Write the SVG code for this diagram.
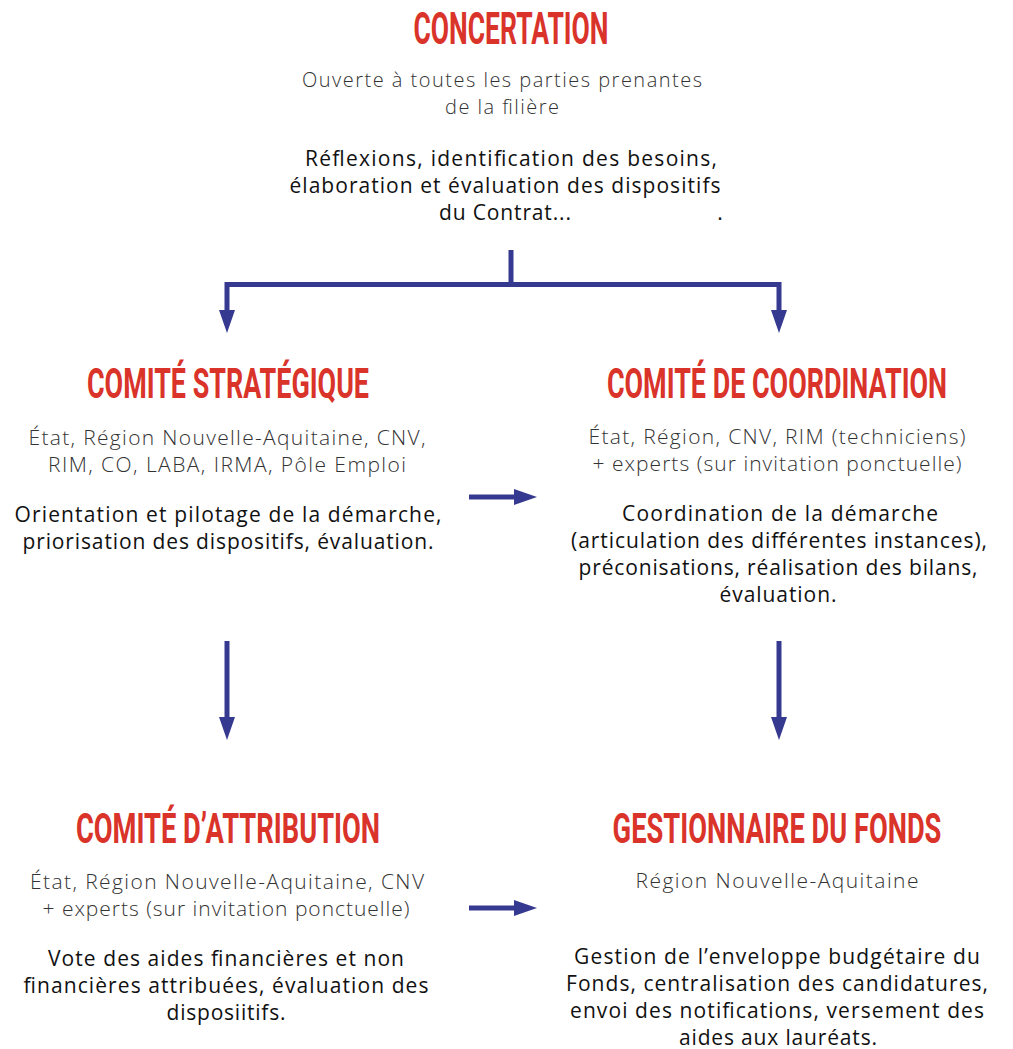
<svg xmlns="http://www.w3.org/2000/svg" width="1013" height="1049" viewBox="0 0 1013 1049">
<defs>
<style>
.h{font-family:Roboto,"Liberation Sans",sans-serif;font-weight:700;fill:#d9332a;text-anchor:middle}
.m{font-family:"Open Sans","Noto Sans",sans-serif;font-weight:300;font-size:21px;fill:#333;text-anchor:middle}
.d{font-family:"Open Sans","Noto Sans",sans-serif;font-weight:500;font-size:21px;fill:#111;text-anchor:middle}
.c{fill:none;stroke:#363990;stroke-width:5;stroke-linejoin:miter;marker-end:url(#ah)}
</style>
<marker id="ah" markerUnits="userSpaceOnUse" markerWidth="24" markerHeight="17" refX="0" refY="8" orient="auto" viewBox="0 0 24 16">
<path d="M0,0 L23,8 L0,16 Z" fill="#363990"/>
</marker>
</defs>
<rect width="1013" height="1049" fill="#fff"/>

<g id="concertation">
<text class="h" transform="translate(511,44) scale(0.6,1)" font-size="45" textLength="325" lengthAdjust="spacingAndGlyphs">CONCERTATION</text>
<text class="m" x="502" y="87" font-size="20" style="font-size:20px" textLength="400" lengthAdjust="spacing">Ouverte à toutes les parties prenantes</text>
<text class="m" x="502" y="114" style="font-size:20px" textLength="114" lengthAdjust="spacing">de la filière</text>
<text class="d" x="511" y="166" textLength="412" lengthAdjust="spacing">Réflexions, identification des besoins,</text>
<text class="d" x="505" y="193" textLength="431" lengthAdjust="spacing">élaboration et évaluation des dispositifs</text>
<text class="d" x="505" y="220" textLength="132" lengthAdjust="spacing">du Contrat...</text>
<text class="d" x="720" y="220">.</text>
</g>

<g id="comite-strategique">
<text class="h" transform="translate(228,398) scale(0.6,1)" font-size="42" textLength="470" lengthAdjust="spacingAndGlyphs">COMITÉ STRATÉGIQUE</text>
<text class="m" x="227" y="445" textLength="397" lengthAdjust="spacing">État, Région Nouvelle-Aquitaine, CNV,</text>
<text class="m" x="227" y="472" textLength="358" lengthAdjust="spacing">RIM, CO, LABA, IRMA, Pôle Emploi</text>
<text class="d" x="228" y="522" textLength="427" lengthAdjust="spacing">Orientation et pilotage de la démarche,</text>
<text class="d" x="228" y="549" textLength="411" lengthAdjust="spacing">priorisation des dispositifs, évaluation.</text>
</g>

<g id="comite-coordination">
<text class="h" transform="translate(777,398) scale(0.6,1)" font-size="42" textLength="567" lengthAdjust="spacingAndGlyphs">COMITÉ DE COORDINATION</text>
<text class="m" x="777" y="444" textLength="377" lengthAdjust="spacing">État, Région, CNV, RIM (techniciens)</text>
<text class="m" x="777" y="471" textLength="369" lengthAdjust="spacing">+ experts (sur invitation ponctuelle)</text>
<text class="d" x="780" y="521" textLength="316" lengthAdjust="spacing">Coordination de la démarche</text>
<text class="d" x="779" y="548" textLength="416" lengthAdjust="spacing">(articulation des différentes instances),</text>
<text class="d" x="778" y="575" textLength="399" lengthAdjust="spacing">préconisations, réalisation des bilans,</text>
<text class="d" x="778" y="602" textLength="117" lengthAdjust="spacing">évaluation.</text>
</g>

<g id="comite-attribution">
<text class="h" transform="translate(228,843) scale(0.6,1)" font-size="42" textLength="507" lengthAdjust="spacingAndGlyphs">COMITÉ D’ATTRIBUTION</text>
<text class="m" x="227" y="889" textLength="394" lengthAdjust="spacing">État, Région Nouvelle-Aquitaine, CNV</text>
<text class="m" x="226" y="916" textLength="367" lengthAdjust="spacing">+ experts (sur invitation ponctuelle)</text>
<text class="d" x="226" y="966" textLength="356" lengthAdjust="spacing">Vote des aides financières et non</text>
<text class="d" x="226" y="993" textLength="405" lengthAdjust="spacing">financières attribuées, évaluation des</text>
<text class="d" x="226" y="1020" textLength="119" lengthAdjust="spacing">disposiitifs.</text>
</g>

<g id="gestionnaire-fonds">
<text class="h" transform="translate(777,843) scale(0.6,1)" font-size="42" textLength="548" lengthAdjust="spacingAndGlyphs">GESTIONNAIRE DU FONDS</text>
<text class="m" x="777" y="888" textLength="283" lengthAdjust="spacing">Région Nouvelle-Aquitaine</text>
<text class="d" x="777" y="964" textLength="406" lengthAdjust="spacing">Gestion de l’enveloppe budgétaire du</text>
<text class="d" x="777" y="991" textLength="422" lengthAdjust="spacing">Fonds, centralisation des candidatures,</text>
<text class="d" x="777" y="1018" textLength="414" lengthAdjust="spacing">envoi des notifications, versement des</text>
<text class="d" x="778" y="1045" textLength="198" lengthAdjust="spacing">aides aux lauréats.</text>
</g>

<g id="connectors">
<path class="c" d="M511,250 V284.5 H227 V310"/>
<path class="c" d="M511,284.5 H779 V310"/>
<path class="c" d="M469,497 H514"/>
<path class="c" d="M227,641 V717"/>
<path class="c" d="M779,641 V717"/>
<path class="c" d="M469,908 H514"/>
</g>
</svg>
